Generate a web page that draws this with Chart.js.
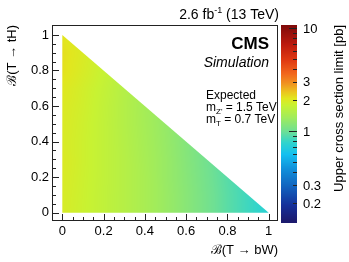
<!DOCTYPE html>
<html>
<head>
<meta charset="utf-8">
<script src="https://cdn.jsdelivr.net/npm/chart.js@4.4.1/dist/chart.umd.min.js"></script>
<style>
html, body { margin: 0; padding: 0; background: #fff; }
#wrap { position: relative; width: 349px; height: 262px; }
</style>
</head>
<body>
<div id="wrap"><canvas id="limitChart" width="349" height="262"></canvas></div>
<script>
// grid of branching fractions (step 0.1)
var bwValues = [0, 0.1, 0.2, 0.3, 0.4, 0.5, 0.6, 0.7, 0.8, 0.9, 1];
var thValues = [0, 0.1, 0.2, 0.3, 0.4, 0.5, 0.6, 0.7, 0.8, 0.9, 1];

// expected upper limit [pb], one row per B(T->tH), columns follow B(T->bW)
var limitRows = [
    [1.93, 1.80, 1.68, 1.56, 1.43, 1.30, 1.17, 1.04, 0.92, 0.82, 0.73],
    [1.94, 1.81, 1.68, 1.56, 1.43, 1.30, 1.17, 1.04, 0.92, 0.82],
    [1.96, 1.82, 1.69, 1.56, 1.43, 1.29, 1.16, 1.03, 0.91],
    [1.98, 1.83, 1.69, 1.56, 1.42, 1.29, 1.15, 1.02],
    [1.96, 1.83, 1.69, 1.55, 1.41, 1.28, 1.14],
    [1.98, 1.84, 1.69, 1.54, 1.40, 1.27],
    [2.00, 1.86, 1.70, 1.54, 1.39],
    [2.04, 1.88, 1.72, 1.55],
    [2.12, 1.94, 1.76],
    [2.14, 1.97],
    [2.08]
];

// axis ticks
var axisMajorTicks = [0, 0.2, 0.4, 0.6, 0.8, 1];
var colorbarLabels = [0.2, 0.3, 1, 2, 3, 10];
var colorbarTicks = [0.2, 0.3, 0.4, 0.5, 0.6, 0.7, 0.8, 0.9, 1, 2, 3, 4, 5, 6, 7, 8, 9, 10];

// colour palette, bottom -> top of the colour bar
var palette = [
    [0.00, '#1c1a6e'], [0.08, '#15309a'], [0.18, '#1165c0'], [0.27, '#1092dc'],
    [0.34, '#14c0f0'], [0.40, '#30d4cc'], [0.46, '#70e092'], [0.53, '#a2ec5a'],
    [0.59, '#c8f232'], [0.625, '#e2e61e'], [0.66, '#ecc21e'], [0.70, '#f09420'],
    [0.75, '#f2681c'], [0.82, '#e03a12'], [0.90, '#bc1a0e'], [1.00, '#7e0a0a']
];

var FONT = "'Liberation Sans', Arial, sans-serif";

function hexRgb(h){
    return [parseInt(h.substr(1,2),16), parseInt(h.substr(3,2),16), parseInt(h.substr(5,2),16)];
}
var paletteRgb = palette.map(function(p){ return [p[0], hexRgb(p[1])]; });

function paletteAt(t){
    t = Math.max(0, Math.min(1, t));
    for (var k = 1; k < paletteRgb.length; k++) {
        if (t <= paletteRgb[k][0]) {
            var a = paletteRgb[k-1], b = paletteRgb[k];
            var f = (t - a[0]) / (b[0] - a[0]);
            return [0,1,2].map(function(c){ return Math.round(a[1][c] + (b[1][c] - a[1][c]) * f); });
        }
    }
    return paletteRgb[paletteRgb.length-1][1];
}

function colorForValue(v, zs){
    return paletteAt((zs.bottom - zs.getPixelForValue(v)) / (zs.bottom - zs.top));
}

// value inside the triangulated grid
function limitAt(bw, th){
    bw = Math.max(0, Math.min(1, bw));
    th = Math.max(0, Math.min(1, th));
    if (bw + th > 1) {
        var ex = (bw + th - 1) / 2;
        bw -= ex; th -= ex;
    }
    var step = bwValues[1] - bwValues[0];
    var gx = bw / step, gy = th / step;
    var n = bwValues.length - 1;
    var i = Math.min(Math.floor(gx), n - 1), j = Math.min(Math.floor(gy), n - 1);
    if (i + j >= n) return limitRows[j][n - j];
    var u = gx - i, w = gy - j;
    var z00 = limitRows[j][i], z10 = limitRows[j][i+1], z01 = limitRows[j+1][i];
    if (u + w <= 1 || i + j + 2 > n) {
        return z00 * (1 - u - w) + z10 * u + z01 * w;
    }
    var z11 = limitRows[j+1][i+1];
    return z11 * (u + w - 1) + z01 * (1 - u) + z10 * (1 - w);
}

// points for the dataset
var gridPoints = [];
limitRows.forEach(function(row, j){
    row.forEach(function(val, i){
        gridPoints.push({x: bwValues[i], y: thValues[j], v: val});
    });
});

function drawRuns(ctx, runs, x, y, align){
    var total = 0;
    runs.forEach(function(r){ ctx.font = r.font; r.w = ctx.measureText(r.t).width; total += r.w; });
    var cx = align === 'right' ? x - total : x;
    ctx.textAlign = 'left';
    ctx.textBaseline = 'alphabetic';
    runs.forEach(function(r){
        ctx.font = r.font;
        ctx.fillText(r.t, cx, y + (r.dy || 0));
        cx += r.w;
    });
}

var heatPlugin = {
    id: 'heat',
    beforeDatasetsDraw: function(chart){
        var xs = chart.scales.x, ys = chart.scales.y, zs = chart.scales.z;
        var a = chart.chartArea, ctx = chart.ctx;
        var w = Math.round(a.right - a.left), h = Math.round(a.bottom - a.top);
        var off = document.createElement('canvas');
        off.width = w; off.height = h;
        var octx = off.getContext('2d');
        var img = octx.createImageData(w, h);
        for (var py = 0; py < h; py++) {
            var th = ys.getValueForPixel(a.top + py + 0.5);
            for (var px = 0; px < w; px++) {
                var bw = xs.getValueForPixel(a.left + px + 0.5);
                if (bw < -0.02 || th < -0.02 || bw + th > 1.03) continue;
                var c = colorForValue(limitAt(bw, th), zs);
                var k = (py * w + px) * 4;
                img.data[k] = c[0]; img.data[k+1] = c[1]; img.data[k+2] = c[2]; img.data[k+3] = 255;
            }
        }
        octx.putImageData(img, 0, 0);
        ctx.save();
        ctx.beginPath();
        ctx.moveTo(xs.getPixelForValue(0), ys.getPixelForValue(0));
        ctx.lineTo(xs.getPixelForValue(1), ys.getPixelForValue(0));
        ctx.lineTo(xs.getPixelForValue(0), ys.getPixelForValue(1));
        ctx.closePath();
        ctx.clip();
        ctx.drawImage(off, a.left, a.top);
        ctx.restore();
    },
    afterDraw: function(chart){
        var xs = chart.scales.x, ys = chart.scales.y, zs = chart.scales.z;
        var a = chart.chartArea, ctx = chart.ctx;
        ctx.save();

        // frame
        ctx.strokeStyle = '#222';
        ctx.lineWidth = 1;
        ctx.strokeRect(Math.round(a.left) + 0.5, Math.round(a.top) + 0.5,
            Math.round(a.right - a.left) - 1, Math.round(a.bottom - a.top) - 1);

        // inward ticks
        ctx.beginPath();
        xs.ticks.forEach(function(t){
            var major = Math.abs(t.value * 5 - Math.round(t.value * 5)) < 1e-6;
            var p = Math.round(xs.getPixelForValue(t.value)) + 0.5;
            ctx.moveTo(p, a.bottom - 1);
            ctx.lineTo(p, a.bottom - 1 - (major ? 6 : 3));
        });
        ys.ticks.forEach(function(t){
            var major = Math.abs(t.value * 5 - Math.round(t.value * 5)) < 1e-6;
            var p = Math.round(ys.getPixelForValue(t.value)) + 0.5;
            ctx.moveTo(a.left + 1, p);
            ctx.lineTo(a.left + 1 + (major ? 6 : 3), p);
        });
        ctx.stroke();

        // colour bar
        var cbL = Math.round(a.right) + 3, cbW = 16;
        for (var y = Math.round(zs.top); y < Math.round(zs.bottom) + 2; y++) {
            var c = colorForValue(zs.getValueForPixel(y + 0.5), zs);
            ctx.fillStyle = 'rgb(' + c.join(',') + ')';
            ctx.fillRect(cbL, y, cbW, 1);
        }
        ctx.strokeStyle = '#222';
        ctx.beginPath();
        colorbarTicks.forEach(function(v){
            var p = Math.round(zs.getPixelForValue(v)) + 0.5;
            var major = (v === 1 || v === 10);
            ctx.moveTo(cbL + cbW, p);
            ctx.lineTo(cbL + cbW - (major ? 8 : 4), p);
        });
        ctx.stroke();
        ctx.fillStyle = '#000';
        ctx.font = '13px ' + FONT;
        ctx.textAlign = 'left';
        ctx.textBaseline = 'middle';
        colorbarLabels.forEach(function(v){
            ctx.fillText(String(v), cbL + cbW + 6, zs.getPixelForValue(v) + 1);
        });

        // colour bar title
        ctx.save();
        ctx.translate(339, a.top);
        ctx.rotate(-Math.PI / 2);
        ctx.textAlign = 'right';
        ctx.textBaseline = 'middle';
        ctx.font = '13px ' + FONT;
        ctx.fillText('Upper cross section limit [pb]', 0, 0);
        ctx.restore();

        // header and labels
        ctx.fillStyle = '#000';
        drawRuns(ctx, [
            {t: '2.6 fb', font: '14px ' + FONT},
            {t: '-1', font: '9px ' + FONT, dy: -6},
            {t: ' (13 TeV)', font: '14px ' + FONT}
        ], a.right + 1, 19, 'right');
        drawRuns(ctx, [{t: 'CMS', font: 'bold 17px ' + FONT}], a.right - 9, 49, 'right');
        drawRuns(ctx, [{t: 'Simulation', font: 'italic 14px ' + FONT}], a.right - 9, 67, 'right');
        var lx = a.left + 154;
        drawRuns(ctx, [{t: 'Expected', font: '12px ' + FONT}], lx, 98.5, 'left');
        drawRuns(ctx, [
            {t: 'm', font: '12px ' + FONT},
            {t: "Z'", font: '8px ' + FONT, dy: 3},
            {t: ' = 1.5 TeV', font: '12px ' + FONT}
        ], lx, 111, 'left');
        drawRuns(ctx, [
            {t: 'm', font: '12px ' + FONT},
            {t: 'T', font: '8px ' + FONT, dy: 3},
            {t: ' = 0.7 TeV', font: '12px ' + FONT}
        ], lx, 122.5, 'left');
        ctx.restore();
    }
};

function axisTicks(scale){
    var list = [];
    for (var k = 0; k < axisMajorTicks.length - 1; k++) {
        var lo = axisMajorTicks[k], hi = axisMajorTicks[k+1];
        for (var m = 0; m < 4; m++) list.push({value: Math.round((lo + (hi - lo) * m / 4) * 1000) / 1000});
    }
    list.push({value: axisMajorTicks[axisMajorTicks.length - 1]});
    scale.ticks = list;
}

function tickLabel(v){
    return axisMajorTicks.indexOf(v) >= 0 ? String(v) : '';
}

Chart.defaults.color = '#000';
Chart.defaults.font.family = FONT;
Chart.defaults.font.size = 13;

var ctx = document.getElementById('limitChart');
var limitChart = new Chart(ctx, {
    type: 'scatter',
    data: {
        datasets: [{
            label: 'Expected limit',
            data: gridPoints,
            pointRadius: 0,
            pointHoverRadius: 0
        }]
    },
    options: {
        responsive: false,
        animation: false,
        layout: { padding: { top: 25, right: 71, left: 0, bottom: 0 } },
        plugins: {
            legend: { display: false },
            tooltip: { enabled: false }
        },
        scales: {
            x: {
                type: 'linear',
                min: -0.05,
                max: 1.045,
                afterBuildTicks: axisTicks,
                afterFit: function(s){ s.height = 41; },
                grid: { display: false, drawTicks: false },
                border: { display: false },
                ticks: { callback: tickLabel, autoSkip: false, maxRotation: 0, padding: 3 },
                title: { display: true, text: '\u212C(T \u2192 bW)', align: 'end', padding: { top: 0, bottom: 4 }, font: { size: 13 } }
            },
            y: {
                type: 'linear',
                min: -0.047,
                max: 1.056,
                afterBuildTicks: axisTicks,
                afterFit: function(s){ s.width = 52; },
                grid: { display: false, drawTicks: false },
                border: { display: false },
                ticks: { callback: tickLabel, autoSkip: false, padding: 3 },
                title: { display: true, text: '\u212C(T \u2192 tH)', align: 'end', padding: { top: 5, bottom: 0 }, font: { size: 13 } }
            },
            z: {
                type: 'logarithmic',
                position: 'right',
                display: false,
                min: 0.134,
                max: 10.7
            }
        }
    },
    plugins: [heatPlugin]
});
</script>
</body>
</html>
